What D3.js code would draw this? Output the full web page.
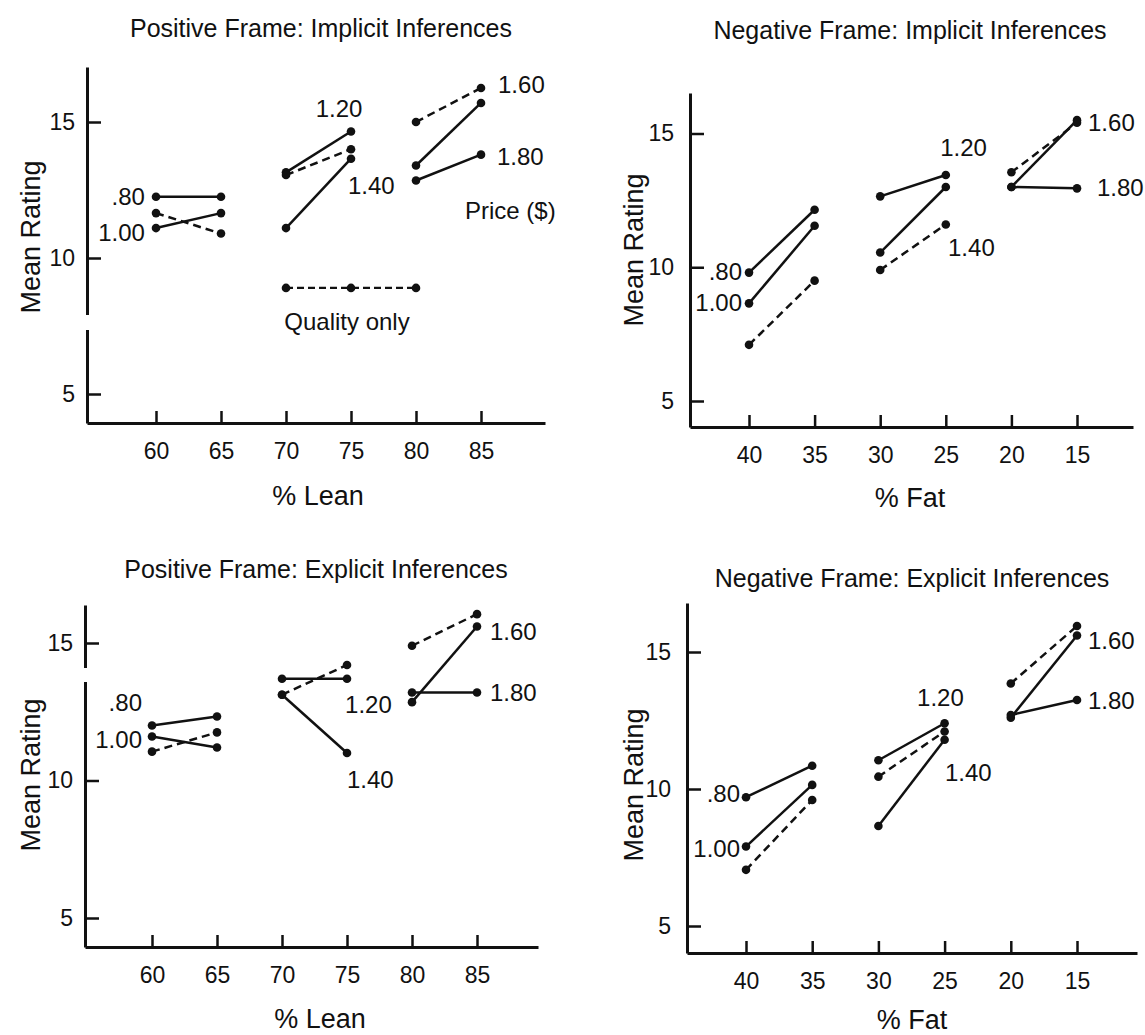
<!DOCTYPE html>
<meta charset="utf-8">
<html>
<body style="margin:0;background:#fff">
<div id="chart"></div>
<script src="https://d3js.org/d3.v7.min.js"></script>
<script>
// x categories and y ticks
var leanLevels = [60, 65, 70, 75, 80, 85];
var fatLevels = [40, 35, 30, 25, 20, 15];
var ratingTicks = [5, 10, 15];

// segments are [x0, rating0, x1, rating1]
var posImpSolid = [[60, 12.25, 65, 12.25], [60, 11.1, 65, 11.65], [70, 13.15, 75, 14.65], [70, 11.1, 75, 13.65], [80, 13.4, 85, 15.7], [80, 12.85, 85, 13.8]];
var posImpDashed = [[60, 11.65, 65, 10.9], [70, 13.05, 75, 14.0], [80, 15.0, 85, 16.25]];
var posImpQuality = [[70, 8.9], [75, 8.9], [80, 8.9]];

var negImpSolid = [[40, 9.8, 35, 12.15], [40, 8.65, 35, 11.55], [30, 12.65, 25, 13.45], [30, 10.55, 25, 13.0], [20, 13.0, 15, 15.5], [20, 13.0, 15, 12.95]];
var negImpDashed = [[40, 7.1, 35, 9.5], [30, 9.9, 25, 11.6], [20, 13.55, 15, 15.4]];

var posExpSolid = [[60, 12.0, 65, 12.33], [60, 11.6, 65, 11.2], [70, 13.7, 75, 13.7], [70, 13.12, 75, 11.0], [80, 12.85, 85, 15.6], [80, 13.2, 85, 13.2]];
var posExpDashed = [[60, 11.05, 65, 11.75], [70, 13.12, 75, 14.2], [80, 14.9, 85, 16.05]];

var negExpSolid = [[40, 9.7, 35, 10.85], [40, 7.9, 35, 10.15], [30, 11.05, 25, 12.4], [30, 8.65, 25, 11.8], [20, 12.6, 15, 15.6], [20, 12.7, 15, 13.25]];
var negExpDashed = [[40, 7.05, 35, 9.6], [30, 10.45, 25, 12.1], [20, 13.85, 15, 15.95]];

var font = "'Liberation Sans', Arial, Helvetica, sans-serif";

var svg = d3.select("#chart").append("svg")
    .attr("width", 1145)
    .attr("height", 1035)
    .style("background", "#fff");

var panels = [
  {title: "Positive Frame: Implicit Inferences", xTitle: "% Lean", levels: leanLevels,
   solid: posImpSolid, dashed: posImpDashed, quality: posImpQuality,
   x0: 60, x1: 85, px0: 156, px1: 481, py5: 394, py15: 122,
   axisX: 87, axisY: 423, top: 67, right: 545, brk: [315, 330], pad: 12,
   titleX: 321, titleY: 37, xTitleX: 318, xTitleY: 505, yTitleX: 40, yTitleY: 237,
   labels: [[".80", 59.15, 12.24, "end"], ["1.00", 59.15, 10.92, "end"], ["1.20", 74.08, 15.51, "middle"],
            ["1.40", 74.77, 12.68, "start"], ["1.60", 86.31, 16.36, "start"], ["1.80", 86.23, 13.71, "start"],
            ["Price ($)", 83.77, 11.76, "start"], ["Quality only", 74.69, 7.65, "middle"]]},
  {title: "Negative Frame: Implicit Inferences", xTitle: "% Fat", levels: fatLevels,
   solid: negImpSolid, dashed: negImpDashed, quality: [],
   x0: 40, x1: 15, px0: 749, px1: 1077, py5: 401, py15: 133.5,
   axisX: 690, axisY: 427, top: 93, right: 1133, brk: null, pad: 16,
   titleX: 910, titleY: 39, xTitleX: 910, xTitleY: 507, yTitleX: 643, yTitleY: 250,
   labels: [[".80", 40.53, 9.82, "end"], ["1.00", 40.53, 8.66, "end"], ["1.20", 23.65, 14.46, "middle"],
            ["1.40", 24.83, 10.72, "start"], ["1.60", 14.16, 15.39, "start"], ["1.80", 13.48, 12.96, "start"]]},
  {title: "Positive Frame: Explicit Inferences", xTitle: "% Lean", levels: leanLevels,
   solid: posExpSolid, dashed: posExpDashed, quality: [],
   x0: 60, x1: 85, px0: 152, px1: 477, py5: 918, py15: 643,
   axisX: 85, axisY: 947, top: 605, right: 538, brk: [668, 682], pad: 12,
   titleX: 316, titleY: 578, xTitleX: 320, xTitleY: 1028, yTitleX: 40, yTitleY: 775,
   labels: [[".80", 59.23, 12.82, "end"], ["1.00", 59.23, 11.47, "end"], ["1.20", 74.85, 12.75, "start"],
            ["1.40", 75.0, 10.02, "start"], ["1.60", 86.0, 15.4, "start"], ["1.80", 86.0, 13.18, "start"]]},
  {title: "Negative Frame: Explicit Inferences", xTitle: "% Fat", levels: fatLevels,
   solid: negExpSolid, dashed: negExpDashed, quality: [],
   x0: 40, x1: 15, px0: 746, px1: 1077, py5: 926, py15: 652,
   axisX: 687, axisY: 953, top: 603, right: 1137, brk: null, pad: 16,
   titleX: 912, titleY: 587, xTitleX: 912, xTitleY: 1029, yTitleX: 643, yTitleY: 785,
   labels: [[".80", 40.45, 9.85, "end"], ["1.00", 40.45, 7.84, "end"], ["1.20", 27.08, 13.35, "start"],
            ["1.40", 24.97, 10.61, "start"], ["1.60", 14.17, 15.43, "start"], ["1.80", 14.17, 13.24, "start"]]}
];

panels.forEach(function (p) {
  var g = svg.append("g");

  // scales anchored on the tick positions, then stretched to the axis ends
  var x = d3.scaleLinear().domain([p.x0, p.x1]).range([p.px0, p.px1]);
  x.domain([x.invert(p.axisX), x.invert(p.right)]).range([p.axisX, p.right]);
  var y = d3.scaleLinear().domain([5, 15]).range([p.py5, p.py15]);
  y.domain([y.invert(p.axisY), y.invert(p.top)]).range([p.axisY, p.top]);

  var xAxis = g.append("g")
      .attr("transform", "translate(0," + p.axisY + ")")
      .call(d3.axisBottom(x).tickValues(p.levels).tickSizeInner(-12).tickSizeOuter(0).tickPadding(20));
  var yAxis = g.append("g")
      .attr("transform", "translate(" + p.axisX + ",0)")
      .call(d3.axisLeft(y).tickValues(ratingTicks).tickSizeInner(-14).tickSizeOuter(0).tickPadding(p.pad));

  [xAxis, yAxis].forEach(function (a) {
    a.select(".domain").attr("stroke", "#111").attr("stroke-width", 3);
    a.selectAll(".tick line").attr("stroke", "#111").attr("stroke-width", 2.5);
    a.selectAll(".tick text").attr("fill", "#111").style("font-family", font).style("font-size", "23px");
  });

  if (p.brk) {
    g.append("rect")
        .attr("x", p.axisX - 4).attr("y", p.brk[0])
        .attr("width", 8).attr("height", p.brk[1] - p.brk[0])
        .attr("fill", "#fff");
  }

  function drawSegs(segs, dashed) {
    g.selectAll(null).data(segs).enter().append("line")
        .attr("x1", function (d) { return x(d[0]); })
        .attr("y1", function (d) { return y(d[1]); })
        .attr("x2", function (d) { return x(d[2]); })
        .attr("y2", function (d) { return y(d[3]); })
        .attr("stroke", "#111")
        .attr("stroke-width", 2.5)
        .attr("stroke-dasharray", dashed ? "8,5" : null);
    var pts = [];
    segs.forEach(function (d) { pts.push([d[0], d[1]], [d[2], d[3]]); });
    g.selectAll(null).data(pts).enter().append("circle")
        .attr("cx", function (d) { return x(d[0]); })
        .attr("cy", function (d) { return y(d[1]); })
        .attr("r", 4.3)
        .attr("fill", "#111");
  }
  drawSegs(p.solid, false);
  drawSegs(p.dashed, true);

  if (p.quality.length) {
    g.append("path")
        .datum(p.quality)
        .attr("d", d3.line().x(function (d) { return x(d[0]); }).y(function (d) { return y(d[1]); }))
        .attr("fill", "none")
        .attr("stroke", "#111")
        .attr("stroke-width", 2.2)
        .attr("stroke-dasharray", "7,4");
    g.selectAll(null).data(p.quality).enter().append("circle")
        .attr("cx", function (d) { return x(d[0]); })
        .attr("cy", function (d) { return y(d[1]); })
        .attr("r", 4.3)
        .attr("fill", "#111");
  }

  g.selectAll(null).data(p.labels).enter().append("text")
      .attr("x", function (d) { return x(d[1]); })
      .attr("y", function (d) { return y(d[2]); })
      .attr("dy", "0.35em")
      .attr("text-anchor", function (d) { return d[3]; })
      .style("font-family", font)
      .style("font-size", "24px")
      .attr("fill", "#111")
      .text(function (d) { return d[0]; });

  g.append("text")
      .attr("x", p.titleX).attr("y", p.titleY)
      .attr("text-anchor", "middle")
      .style("font-family", font).style("font-size", "25px")
      .attr("fill", "#111")
      .text(p.title);

  g.append("text")
      .attr("x", p.xTitleX).attr("y", p.xTitleY)
      .attr("text-anchor", "middle")
      .style("font-family", font).style("font-size", "27px")
      .attr("fill", "#111")
      .text(p.xTitle);

  g.append("text")
      .attr("transform", "translate(" + p.yTitleX + "," + p.yTitleY + ") rotate(-90)")
      .attr("text-anchor", "middle")
      .style("font-family", font).style("font-size", "27px")
      .attr("fill", "#111")
      .text("Mean Rating");
});
</script>
</body>
</html>
